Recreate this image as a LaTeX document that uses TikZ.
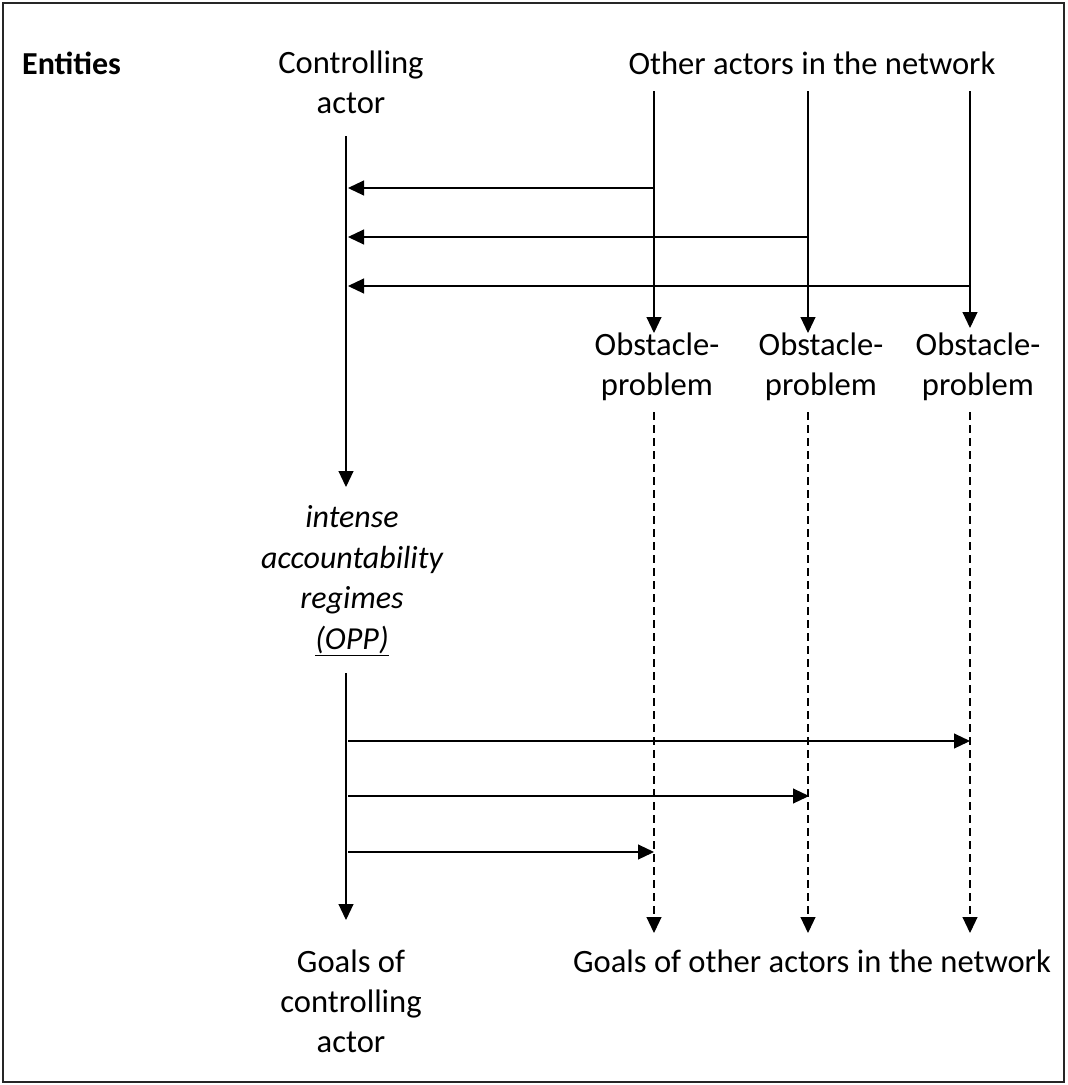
\documentclass[tikz,border=0pt]{standalone}
\usepackage{fontspec}
\setmainfont{Carlito}
\usetikzlibrary{arrows.meta}
\begin{document}
\begin{tikzpicture}[x=1pt,y=-1pt,
  txt/.style={inner sep=0pt, align=center, font=\fontsize{32.6}{40}\selectfont},
  conn/.style={line width=1.1pt, -{Triangle[length=16pt,width=15pt]}},
  dashconn/.style={line width=1.1pt, dash pattern=on 8pt off 5pt, -{Triangle[length=16pt,width=15pt]}}]
\useasboundingbox (0,0) rectangle (1068,1085);
\draw[line width=1.5pt, black!85] (3,3) rectangle (1064,1082);

% texts
\node[txt, anchor=base west, font=\fontsize{32}{40}\selectfont\bfseries] (ent) at (22,74) {Entities};
\node[txt] (ctrl) at (351,85.5) {\strut Controlling\\\strut actor};
\node[txt] (others) at (812,66) {\strut Other actors in the network};
\node[txt] (ob1) at (657,367) {\strut Obstacle-\\\strut problem};
\node[txt] (ob2) at (821,367) {\strut Obstacle-\\\strut problem};
\node[txt] (ob3) at (978,367) {\strut Obstacle-\\\strut problem};
\node[txt, font=\fontsize{32}{40.5}\selectfont\itshape] (opp) at (352,580.5) {\strut intense\\\strut accountability\\\strut regimes\\\strut \underline{(OPP)}};
\node[txt] (gc) at (351,1004.5) {\strut Goals of\\\strut controlling\\\strut actor};
\node[txt] (go) at (812,964) {\strut Goals of other actors in the network};

% coordinates
\coordinate (c0) at (346,136);
\coordinate (c1) at (346,487);
\coordinate (a1) at (654,91);
\coordinate (a2) at (808,91);
\coordinate (a3) at (970,91);
\coordinate (a1e) at (654,333);
\coordinate (a2e) at (808,333);
\coordinate (a3e) at (970,328);
\coordinate (h1s) at (654,188);
\coordinate (h2s) at (808,237);
\coordinate (h3s) at (970,286);
\coordinate (h1e) at (348,188);
\coordinate (h2e) at (348,237);
\coordinate (h3e) at (348,286);
\coordinate (d1) at (654,412);
\coordinate (d2) at (808,412);
\coordinate (d3) at (970,412);
\coordinate (d1e) at (654,933);
\coordinate (d2e) at (808,933);
\coordinate (d3e) at (970,933);
\coordinate (o0) at (346,673);
\coordinate (o1) at (346,920);
\coordinate (r1s) at (348,741);
\coordinate (r2s) at (348,796);
\coordinate (r3s) at (348,852);
\coordinate (r1e) at (970,741);
\coordinate (r2e) at (809,796);
\coordinate (r3e) at (654,852);

% connectors
\draw[conn] (c0) -- (c1);
\draw[conn] (a1) -- (a1e);
\draw[conn] (a2) -- (a2e);
\draw[conn] (a3) -- (a3e);
\draw[conn] (h1s) -- (h1e);
\draw[conn] (h2s) -- (h2e);
\draw[conn] (h3s) -- (h3e);
\draw[dashconn] (d1) -- (d1e);
\draw[dashconn] (d2) -- (d2e);
\draw[dashconn] (d3) -- (d3e);
\draw[conn] (o0) -- (o1);
\draw[conn] (r1s) -- (r1e);
\draw[conn] (r2s) -- (r2e);
\draw[conn] (r3s) -- (r3e);
\end{tikzpicture}
\end{document}
